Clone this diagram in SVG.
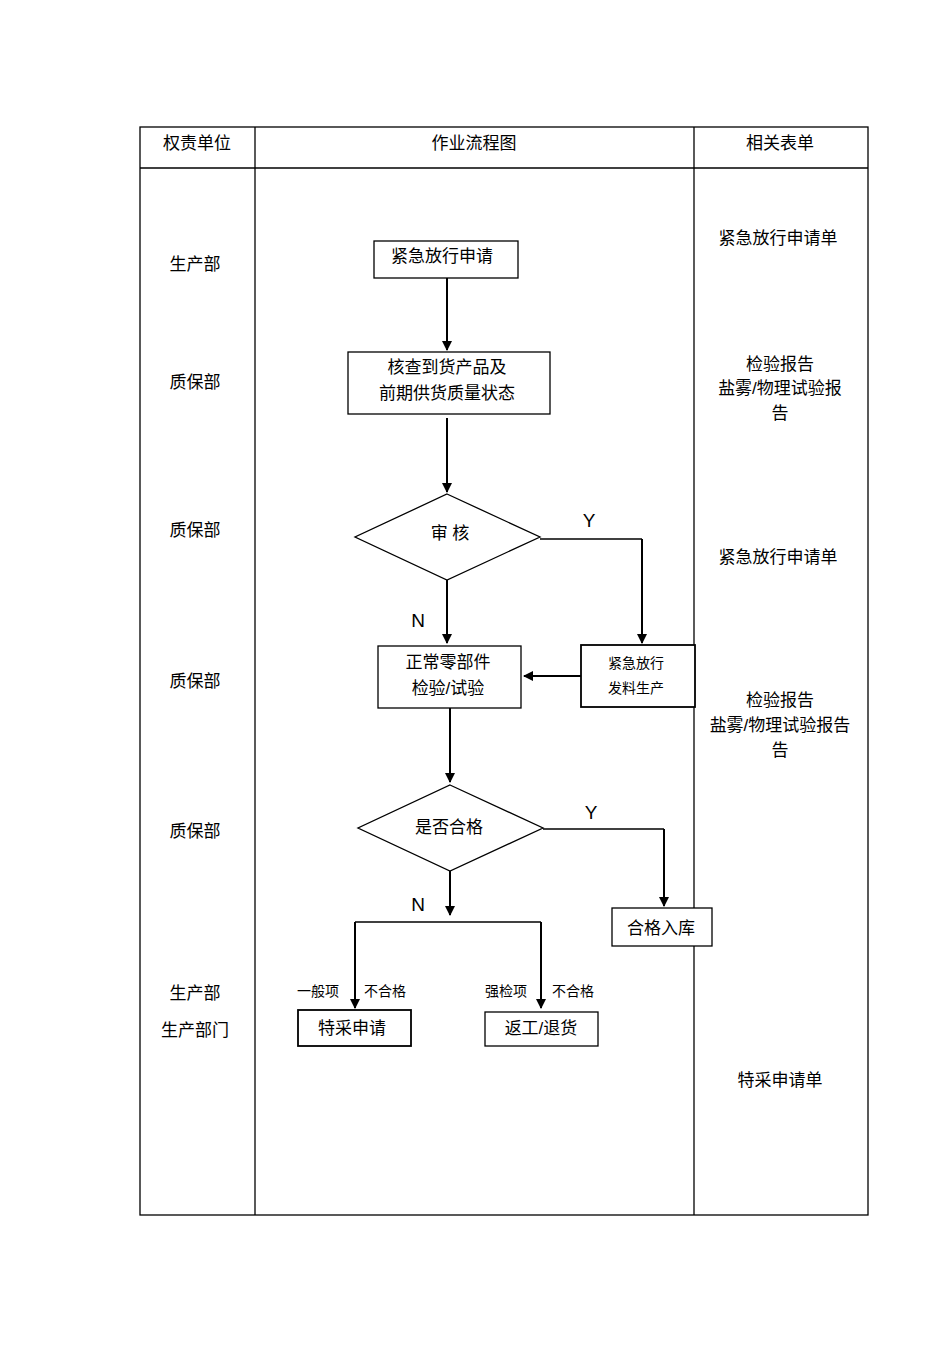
<svg xmlns="http://www.w3.org/2000/svg" width="950" height="1345" viewBox="0 0 950 1345">
<style>
text{font-family:"Liberation Sans","Noto Sans CJK SC",sans-serif;font-size:17px;fill:#000;text-anchor:middle;dominant-baseline:middle}
.s{font-size:14px}
.box{fill:#fff;stroke:#000;stroke-width:1.3}
.ln{fill:none;stroke:#000;stroke-width:1.3}
.ar{fill:none;stroke:#000;stroke-width:2;marker-end:url(#a)}
</style>
<defs><marker id="a" viewBox="0 0 10 10" refX="9" refY="5" markerWidth="5" markerHeight="5" orient="auto"><path d="M0,0L10,5L0,10z" fill="#000"/></marker></defs>
<rect width="950" height="1345" fill="#fff"/>
<g id="table" class="ln">
<rect x="140" y="127" width="728" height="1088"/>
<line x1="140" y1="168" x2="868" y2="168"/>
<line x1="255" y1="127" x2="255" y2="1215"/>
<line x1="694" y1="127" x2="694" y2="1215"/>
</g>
<g id="labels">
<text x="197" y="145">权责单位</text><text x="474" y="145">作业流程图</text><text x="780" y="145">相关表单</text>
<text x="195" y="266">生产部</text><text x="195" y="384">质保部</text><text x="195" y="532">质保部</text><text x="195" y="683">质保部</text><text x="195" y="833">质保部</text><text x="195" y="995">生产部</text><text x="195" y="1032">生产部门</text>
<text x="778" y="240">紧急放行申请单</text>
<text x="780" y="366">检验报告</text><text x="780" y="390">盐雾/物理试验报</text><text x="780" y="415">告</text>
<text x="778" y="559">紧急放行申请单</text>
<text x="780" y="702">检验报告</text><text x="780" y="727">盐雾/物理试验报告</text><text x="780" y="752">告</text>
<text x="780" y="1082">特采申请单</text>
</g>
<g id="connectors">
<line class="ar" x1="447" y1="278" x2="447" y2="350"/>
<line class="ar" x1="447" y1="418" x2="447" y2="492"/>
<polyline class="ln" points="540,539 642,539"/>
<line class="ar" x1="642" y1="539" x2="642" y2="643"/>
<line class="ar" x1="447" y1="580" x2="447" y2="643"/>
<line class="ar" x1="581" y1="676" x2="524" y2="676"/>
<line class="ar" x1="450" y1="708" x2="450" y2="782"/>
<polyline class="ln" points="543,829 664,829"/>
<line class="ar" x1="664" y1="829" x2="664" y2="906"/>
<line class="ar" x1="450" y1="871" x2="450" y2="915"/>
<polyline class="ln" points="355,922 541,922"/>
<line class="ar" x1="355" y1="922" x2="355" y2="1008"/>
<line class="ar" x1="541" y1="922" x2="541" y2="1008"/>
<text x="589" y="522" style="font-size:19px">Y</text><text x="418" y="622" style="font-size:19px">N</text>
<text x="591" y="814" style="font-size:19px">Y</text><text x="418" y="906" style="font-size:19px">N</text>
<text class="s" x="318" y="992">一般项</text><text class="s" x="385" y="992">不合格</text>
<text class="s" x="506" y="992">强检项</text><text class="s" x="573" y="992">不合格</text>
</g>
<g id="n1"><rect class="box" x="374" y="241" width="144" height="37"/><text x="442" y="258">紧急放行申请</text></g>
<g id="n2"><rect class="box" x="348" y="352" width="202" height="62"/><text x="447" y="369">核查到货产品及</text><text x="447" y="395">前期供货质量状态</text></g>
<g id="n3"><polygon class="box" points="447,494 540,537 447,580 355,537"/><text x="450" y="535">审  核</text></g>
<g id="n4"><rect class="box" x="378" y="646" width="143" height="62"/><text x="448" y="664">正常零部件</text><text x="448" y="690">检验/试验</text></g>
<g id="n5"><rect class="box" x="581" y="645" width="114" height="62" style="stroke-width:1.8"/><text class="s" x="636" y="664">紧急放行</text><text class="s" x="636" y="689">发料生产</text></g>
<g id="n6"><polygon class="box" points="450,785 543,828 450,871 358,828"/><text x="449" y="829">是否合格</text></g>
<g id="n7"><rect class="box" x="612" y="908" width="100" height="38"/><text x="661" y="930">合格入库</text></g>
<g id="n8"><rect class="box" x="298" y="1010" width="113" height="36" style="stroke-width:1.8"/><text x="352" y="1030">特采申请</text></g>
<g id="n9"><rect class="box" x="485" y="1012" width="113" height="34"/><text x="541" y="1030">返工/退货</text></g>
</svg>
